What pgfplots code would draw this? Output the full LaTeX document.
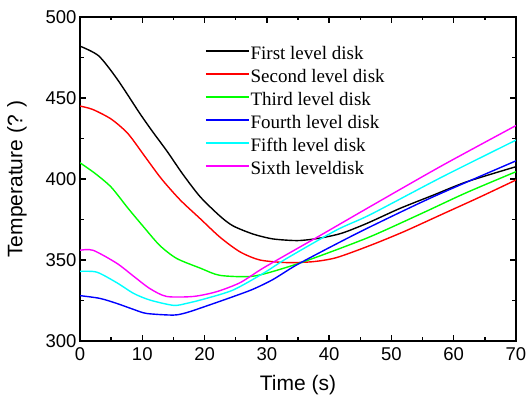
\documentclass[border=0pt]{standalone}
\usepackage{pgfplots}
\pgfplotsset{compat=1.18}
\usepackage{fontspec}
\setmainfont{Liberation Sans}
\newfontfamily\seriffont{Liberation Serif}
\definecolor{cgreen}{RGB}{0,255,0}
\definecolor{ccyan}{RGB}{0,255,255}
\definecolor{cmag}{RGB}{255,0,255}
\definecolor{cblue}{RGB}{0,0,255}
\definecolor{cred}{RGB}{255,0,0}
\begin{document}
\begin{tikzpicture}
\useasboundingbox (0,0) rectangle (526bp,400bp);
\begin{axis}[
  at={(80bp,59bp)}, anchor=south west,
  scale only axis, width=436bp, height=324bp,
  xmin=0, xmax=70, ymin=300, ymax=500,
  xtick={0,10,20,30,40,50,60,70}, ytick={300,350,400,450,500},
  minor x tick num=1, minor y tick num=1,
  tick align=inside, xtick pos=both, ytick pos=both,
  major tick length=6bp, minor tick length=3.5bp,
  tick style={draw=black, line width=1.3bp},
  axis line style={line width=1.6bp},
  /pgf/number format/assume math mode=true,
  tick label style={font=\fontsize{18.5bp}{21bp}\selectfont},
  xticklabel style={yshift=-3bp},
  every axis label/.append style={font=\fontsize{21bp}{24bp}\selectfont},
  xlabel={Time (s)}, ylabel={Temperature (? )},
  xlabel style={at={(axis description cs:0.5,-0.1358)}, anchor=center},
  ylabel style={at={(axis description cs:-0.1445,0.5)}, anchor=center},
  legend style={at={(rel axis cs:0.2867,0.909)}, anchor=north west, draw=none, fill=none,
    font=\seriffont\fontsize{19bp}{22bp}\selectfont, inner sep=0pt, row sep=6bp,
    nodes={inner sep=1bp, text height=12bp, text depth=3bp}},
  legend cell align=left,
  legend image code/.code={\draw[#1, line width=1.4bp] (0bp,4bp) -- (43bp,4bp);},
  every axis plot/.append style={line width=1.4bp, smooth, tension=0.45},
]
\addplot[black] coordinates {(0,482) (3,476) (6,461.5) (9.6,440.5) (11.7,429) (14,417) (16.5,403) (19.3,389) (22.5,377) (24.6,371) (27.8,366) (31,363) (35,362) (38.5,363.5) (42,366.5) (46,372.5) (51.4,381.9) (56.7,390) (62.1,398.3) (70,407.6)};
\addlegendentry{First level disk}
\addplot[cred] coordinates {(0,445) (2,443) (5,437) (7.7,428) (10.4,414) (13.1,400) (16.1,387) (19.3,375.5) (22.5,364) (25.7,355) (28.9,350) (33.2,348.4) (37.5,349) (41.2,351.5) (46.6,359) (52,367.5) (58,378) (64,388.5) (70,399.4)};
\addlegendentry{Second level disk}
\addplot[cgreen] coordinates {(0,410) (2.4,403.5) (5,395) (7.7,382) (10.2,370.5) (12.8,359) (15.5,351) (19.3,345) (22.5,340.5) (27.8,340) (33.2,345.5) (38.5,352.5) (46.6,364.4) (55,379) (62,391.5) (70,404.5)};
\addlegendentry{Third level disk}
\addplot[cblue] coordinates {(0,328) (3.2,326.3) (5.9,323.2) (8.6,319.5) (10.7,317) (15,316) (17.1,317.5) (20.3,321.6) (24.6,327.4) (27.8,332) (31,338) (34.8,347) (41.2,360) (46.6,370.5) (56.7,389) (70,411.2)};
\addlegendentry{Fourth level disk}
\addplot[ccyan] coordinates {(0,343) (2.7,342.5) (5.9,336) (8.6,329.4) (11.2,325.3) (15,322) (17.1,323.2) (20.3,326.3) (24.6,331.5) (29.4,341.7) (33.2,351) (41.2,368.5) (46.6,378) (58,401) (70,424)};
\addlegendentry{Fifth level disk}
\addplot[cmag] coordinates {(0,356) (2.1,356) (5.9,348) (8.6,340) (11.2,332.4) (13.9,327.5) (18.2,327.5) (21.9,330.4) (25.7,336) (29.4,345) (35.3,358) (38.5,365) (46.6,383) (58,408) (70,433)};
\addlegendentry{Sixth leveldisk}
\end{axis}
\end{tikzpicture}
\end{document}
